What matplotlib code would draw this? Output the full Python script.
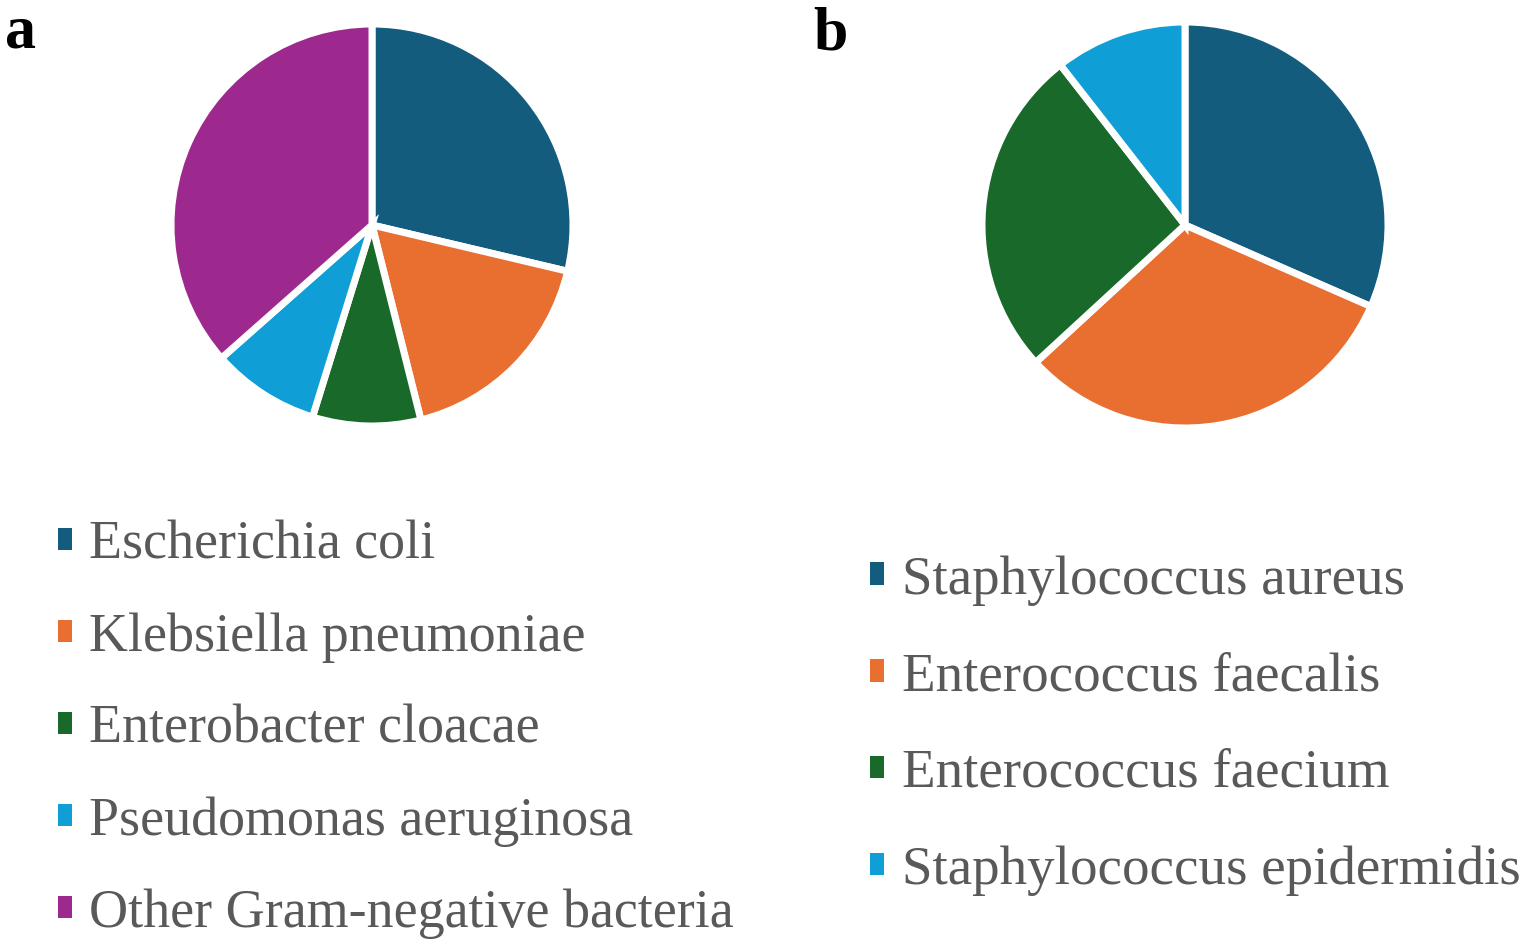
import matplotlib
matplotlib.use("Agg")
import matplotlib.pyplot as plt
from matplotlib.patches import Patch

# ---- data ----
labels_a = ["Escherichia coli", "Klebsiella pneumoniae", "Enterobacter cloacae",
            "Pseudomonas aeruginosa", "Other Gram-negative bacteria"]
values_a = [33, 20, 10, 10, 42]
labels_b = ["Staphylococcus aureus", "Enterococcus faecalis", "Enterococcus faecium",
            "Staphylococcus epidermidis"]
values_b = [12, 12, 10, 4]

colors_a = ["#145C7E", "#E86F30", "#19692A", "#0F9ED5", "#9D298E"]
colors_b = ["#145C7E", "#E86F30", "#19692A", "#0F9ED5"]

W, H = 1524, 943
DPI = 100
fig = plt.figure(figsize=(W / DPI, H / DPI), dpi=DPI)
plt.rcParams['font.family'] = ['Liberation Serif', 'DejaVu Serif']

def px2pt(p):
    return p * 72.0 / DPI

def add_pie(cx, cy, r, values, colors):
    ax = fig.add_axes([(cx - r) / W, (H - cy - r) / H, 2 * r / W, 2 * r / H])
    wedges, _ = ax.pie(values, colors=colors, startangle=90, counterclock=False,
                       wedgeprops=dict(edgecolor="white", linewidth=px2pt(7)))
    ax.set_xlim(-1, 1)
    ax.set_ylim(-1, 1)
    ax.set_aspect("equal")
    ax.axis("off")
    return ax

add_pie(372, 225, 201, values_a, colors_a)
add_pie(1185, 225, 203, values_b, colors_b)

text_color = "#595959"

def add_legend(x, y, labels, colors, spacing, fpx):
    handles = [Patch(facecolor=c, edgecolor="none") for c in colors]
    leg = fig.legend(handles, labels, loc="upper left",
                     bbox_to_anchor=(x / W, 1 - y / H),
                     frameon=False, fontsize=px2pt(fpx), handlelength=0.25,
                     handleheight=0.25, handletextpad=0.33, labelspacing=spacing,
                     borderpad=0, borderaxespad=0)
    for t in leg.get_texts():
        t.set_color(text_color)
    return leg

add_legend(58, 520, labels_a, colors_a, 0.77, 54)
add_legend(870, 555, labels_b, colors_b, 0.84, 55)

fig.text(5 / W, 1 - 48 / H, "a", fontsize=px2pt(62), fontweight="bold",
         color="black", va="baseline", ha="left")
fig.text(813 / W, 1 - 50 / H, "b", fontsize=px2pt(62), fontweight="bold",
         color="black", va="baseline", ha="left")

fig.savefig("out.png", dpi=DPI, facecolor="white")
